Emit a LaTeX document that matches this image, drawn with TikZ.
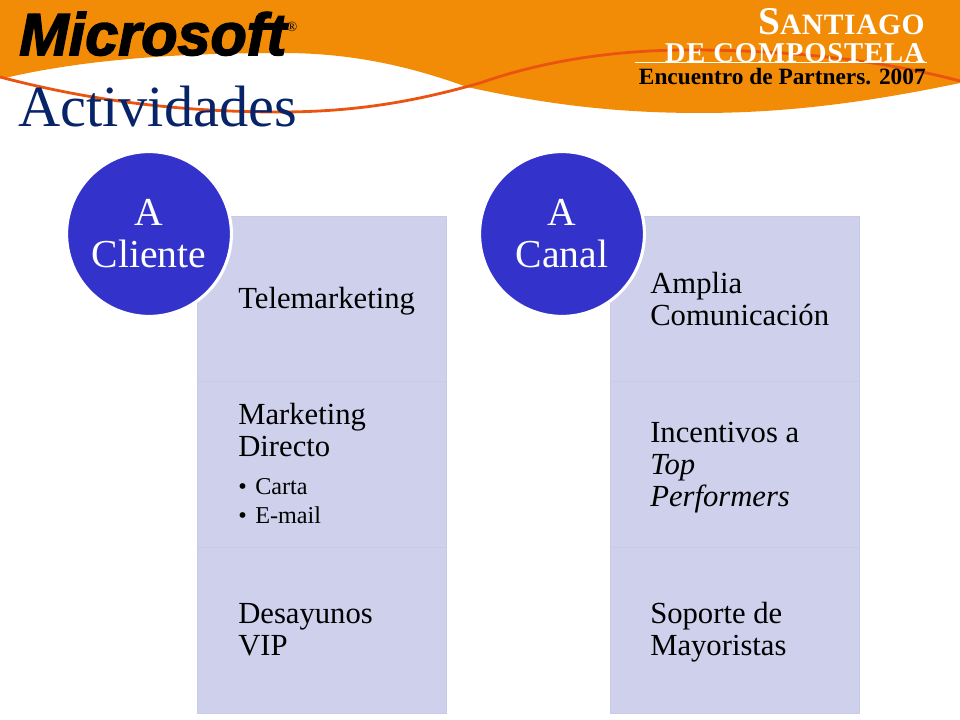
\documentclass[tikz,border=0pt]{standalone}
\usepackage{fontspec}
\setmainfont{Liberation Serif}
\newfontfamily\logofont[FakeBold=2.6]{Liberation Sans Bold Italic}
\usetikzlibrary{calc}

\definecolor{bannerorange}{HTML}{F28C06}
\definecolor{swooshred}{HTML}{EA5410}
\definecolor{titleblue}{HTML}{082468}
\definecolor{circleblue}{HTML}{3333CC}
\definecolor{panelfill}{HTML}{CFD0EC}
\definecolor{paneledge}{HTML}{C9CAE8}

\tikzset{
	panel/.style={fill=panelfill,draw=paneledge,line width=.5pt},
	badge/.style={circle,fill=circleblue,draw=white,line width=2.2pt,minimum size=4.12cm,inner sep=0pt,
		text=white,align=center,font=\fontsize{28.2}{29.8}\selectfont},
	item/.style={anchor=west,align=left,inner sep=0pt,font=\fontsize{21.8}{22.7}\selectfont},
	subitem/.style={anchor=base west,inner sep=0pt,font=\fontsize{17.2}{20}\selectfont}
}

\newcommand{\bulletitem}[1]{\makebox[0.425cm][l]{\textbullet}#1}

\begin{document}
\begin{tikzpicture}[x=0.025cm,y=-0.025cm]
	\useasboundingbox (0,0) rectangle (960,720);

	% banner
	\fill[bannerorange] (0,0) -- (960,0) -- (960,83)
	.. controls (860,104) and (780,113) .. (700,113)
	.. controls (610,113) and (540,103) .. (467,87)
	.. controls (420,70) and (360,53) .. (283,53)
	.. controls (190,53) and (90,58) .. (5,78)
	-- (0,78) -- cycle;

	\draw[swooshred,line width=2pt] (0,77)
	.. controls (80,98) and (170,112) .. (280,112)
	.. controls (360,112) and (420,100) .. (480,83)
	.. controls (540,62) and (610,50) .. (690,50)
	.. controls (790,50) and (880,60) .. (960,81);

	\node[anchor=base west,inner sep=0pt,font=\logofont\fontsize{42.2}{42.2}\selectfont] (logo) at (19,55) {Microsoft};
	\node[anchor=center,inner sep=0pt,font=\fontsize{10}{10}\selectfont] (logomark) at (292,27) {\textregistered};

	\draw[white,line width=1.1pt] (635,62.5) -- (927,62.5);
	\node[anchor=base east,inner sep=0pt,text=white,font=\bfseries\fontsize{28}{28}\selectfont] (santiago) at (925,35)
		{S{\addfontfeature{LetterSpace=2}\fontsize{21}{21}\selectfont ANTIAGO}};
	\node[anchor=base east,inner sep=0pt,text=white,font=\bfseries\addfontfeature{LetterSpace=2.8}\fontsize{20.4}{20.4}\selectfont] (compostela) at (925,62.5) {DE COMPOSTELA};
	\node[anchor=base east,inner sep=0pt,text=black,font=\bfseries\fontsize{16.6}{16.6}\selectfont] (encuentro) at (926,85) {Encuentro de Partners. 2007};

	\node[anchor=base west,inner sep=0pt,text=titleblue,font=\fontsize{41.5}{41.5}\selectfont] (title) at (18,127) {Actividades};

	% left column
	\draw[panel] (197,216) rectangle (446,381);
	\draw[panel] (197,381) rectangle (446,547);
	\draw[panel] (197,547) rectangle (446,713);
	\node[badge] (cliente) at (149,234) {A\\Cliente};
	\node[item] (telemarketing) at (238,301) {Telemarketing};
	\node[item] (directo) at (238,430) {Marketing\\Directo};
	\node[subitem] (carta) at (238,495) {\bulletitem{Carta}};
	\node[subitem] (email) at (238,524) {\bulletitem{E-mail}};
	\node[item] (desayunos) at (238,630) {Desayunos\\VIP};

	% right column
	\draw[panel] (610,216) rectangle (859,381);
	\draw[panel] (610,381) rectangle (859,547);
	\draw[panel] (610,547) rectangle (859,713);
	\node[badge] (canal) at (562,234) {A\\Canal};
	\node[item] (amplia) at (650,299) {Amplia\\Comunicación};
	\node[item] (incentivos) at (650,468) {Incentivos a\\\textit{Top}\\\textit{Performers}};
	\node[item] (soporte) at (650,632) {Soporte de\\Mayoristas};
\end{tikzpicture}
\end{document}
